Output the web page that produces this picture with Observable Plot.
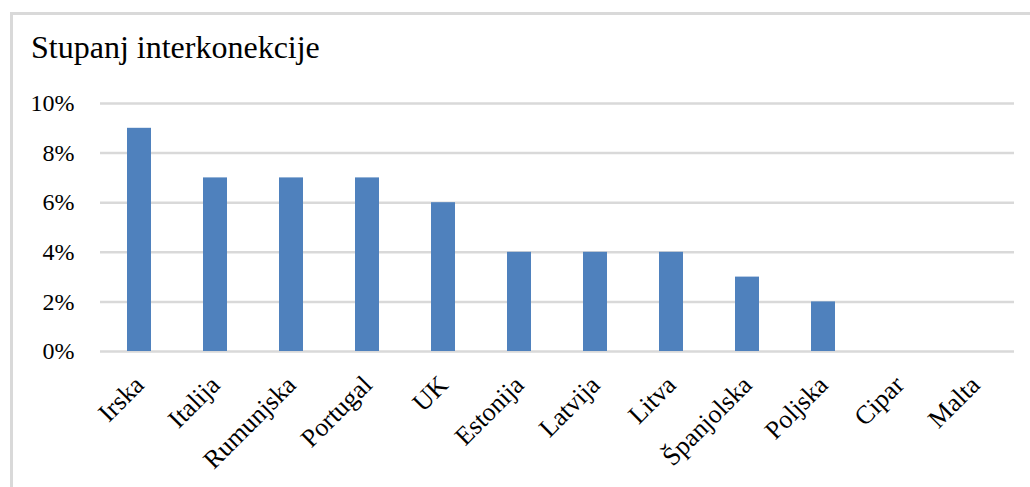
<!DOCTYPE html>
<html><head><meta charset="utf-8">
<script src="https://cdn.jsdelivr.net/npm/d3@7"></script>
<script src="https://cdn.jsdelivr.net/npm/@observablehq/plot@0.6"></script>
<style>
body{margin:0;background:#fff;}
#wrap{position:relative;width:1030px;height:487px;overflow:hidden;font-family:"Liberation Serif","Times New Roman",serif;background:#fff;}
#frame{position:absolute;left:10px;top:12px;width:1040px;height:500px;border-top:3px solid #d9d9d9;border-left:3px solid #d9d9d9;}
#title{position:absolute;left:31px;top:31px;font-size:32px;line-height:32px;color:#000;white-space:nowrap;}
#chart{position:absolute;left:0;top:80px;}
#chart svg text{font-family:"Liberation Serif","Times New Roman",serif !important;}
</style></head><body>
<div id="wrap"><div id="frame"></div><div id="title">Stupanj interkonekcije</div><div id="chart"></div></div>
<script>
const countries = ["Irska","Italija","Rumunjska","Portugal","UK","Estonija","Latvija","Litva","Španjolska","Poljska","Cipar","Malta"];
const values = [9,7,7,7,6,4,4,4,3,2,0,0];
const yTicks = [0,2,4,6,8,10];
const data = countries.map((c,i)=>({country:c, value: values[i]/100}));
const font = "Liberation Serif";
const plot = Plot.plot({
  width:1030, height:407, marginTop:23, marginBottom:136, marginLeft:100, marginRight:16,
  style:{fontFamily:font, fontSize:"24px", color:"#000", background:"transparent", overflow:"visible"},
  x:{domain:countries, paddingInner:0.685, paddingOuter:0.3425, axis:null},
  y:{domain:[0,0.1], axis:null},
  marks:[
    Plot.ruleY(yTicks.map(v=>v/100), {stroke:"#d9d9d9", strokeWidth:2.5}),
    Plot.barY(data,{x:"country", y:"value", fill:"#4F81BD"}),
    Plot.axisY(yTicks.map(v=>v/100), {label:null, tickSize:0, tickPadding:26, tickFormat: d=>Math.round(d*100)+"%", fontSize:24, fontFamily:font, fill:"#000"}),
    Plot.text(data,{x:"country", frameAnchor:"bottom", text:"country", rotate:-45, textAnchor:"end", lineAnchor:"bottom", dx:6, dy:35, fontSize:26, fontFamily:font, fill:"#000"})
  ]
});
document.getElementById("chart").appendChild(plot);
</script>
</body></html>
